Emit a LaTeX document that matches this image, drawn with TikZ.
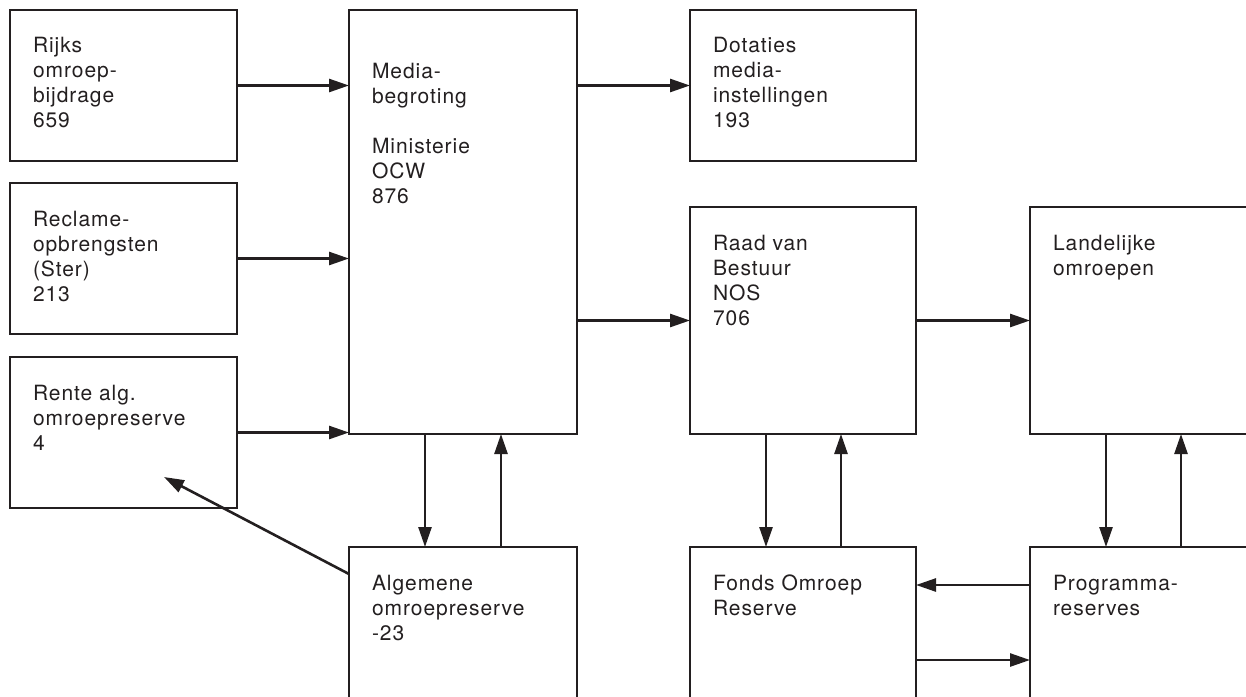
\documentclass[tikz,border=0pt]{standalone}
\usepackage{fontspec}
\setmainfont{TeX Gyre Heros}[LetterSpace=4.5]
\usetikzlibrary{arrows.meta,calc}
\definecolor{ink}{RGB}{35,31,32}
\begin{document}
\begin{tikzpicture}[x=1pt,y=-1pt,
  box/.style={draw=ink, line width=2.6pt, rectangle, anchor=north west, inner sep=0pt, outer sep=0pt},
  txt/.style={anchor=north west, inner sep=0pt, outer sep=0pt, align=left, text=ink, font=\fontsize{21}{25}\selectfont},
  arr/.style={draw=ink, line width=2.6pt, -{Triangle[length=20pt,width=13pt]}}]
\useasboundingbox (0,0) rectangle (1246,696);
\clip (0,0) rectangle (1246,696);
% boxes
\node[box, minimum width=227pt, minimum height=151pt] (rijks) at (10,10) {};
\node[box, minimum width=227pt, minimum height=151pt] (reclame) at (10,183) {};
\node[box, minimum width=227pt, minimum height=151pt] (rente) at (10,357) {};
\node[box, minimum width=228pt, minimum height=424pt] (media) at (349,10) {};
\node[box, minimum width=228pt, minimum height=170pt] (alg) at (349,547) {};
\node[box, minimum width=226pt, minimum height=151pt] (dot) at (690,10) {};
\node[box, minimum width=226pt, minimum height=227pt] (raad) at (690,207) {};
\node[box, minimum width=240pt, minimum height=227pt] (land) at (1030,207) {};
\node[box, minimum width=226pt, minimum height=170pt] (fonds) at (690,547) {};
\node[box, minimum width=240pt, minimum height=170pt] (prog) at (1030,547) {};
% texts
\node[txt] (rijksT) at ($(rijks.north west)+(23,27)$) {Rijks\\omroep-\\bijdrage\\659};
\node[txt] (reclameT) at ($(reclame.north west)+(23,28)$) {Reclame-\\opbrengsten\\(Ster)\\213};
\node[txt] (renteT) at ($(rente.north west)+(23,28)$) {Rente alg.\\omroepreserve\\4};
\node[txt] (mediaT) at ($(media.north west)+(23,53)$) {Media-\\begroting\\[25pt]Ministerie\\OCW\\876};
\node[txt] (algT) at ($(alg.north west)+(23,28)$) {Algemene\\omroepreserve\\-23};
\node[txt] (dotT) at ($(dot.north west)+(23,27)$) {Dotaties\\media-\\instellingen\\193};
\node[txt] (raadT) at ($(raad.north west)+(23,28)$) {Raad van\\Bestuur\\NOS\\706};
\node[txt] (landT) at ($(land.north west)+(23,28)$) {Landelijke\\omroepen};
\node[txt] (fondsT) at ($(fonds.north west)+(23,28)$) {Fonds Omroep\\Reserve};
\node[txt] (progT) at ($(prog.north west)+(23,28)$) {Programma-\\reserves};
% connectors
\draw[arr] (rijks.east) -- (rijks.east -| media.west);
\draw[arr] (reclame.east) -- (reclame.east -| media.west);
\draw[arr] (rente.east) -- (rente.east -| media.west);
\draw[arr] (dot.west -| media.east) -- (dot.west);
\draw[arr] (raad.west -| media.east) -- (raad.west);
\draw[arr] (raad.east) -- (land.west);
\draw[arr] ([xshift=76pt]media.south west) -- ([xshift=76pt]alg.north west);
\draw[arr] ([xshift=152pt]alg.north west) -- ([xshift=152pt]media.south west);
\draw[arr] ([xshift=76pt]raad.south west) -- ([xshift=76pt]fonds.north west);
\draw[arr] ([xshift=151pt]fonds.north west) -- ([xshift=151pt]raad.south west);
\draw[arr] ([xshift=76pt]land.south west) -- ([xshift=76pt]prog.north west);
\draw[arr] ([xshift=151pt]prog.north west) -- ([xshift=151pt]land.south west);
\coordinate (pf) at ($(prog.north west)+(0,38)$);
\draw[arr] (pf) -- (pf -| fonds.east);
\coordinate (fp) at ($(fonds.north east)+(0,113)$);
\draw[arr] (fp) -- (fp -| prog.west);
\coordinate (algOut) at ($(alg.north west)+(0,27)$);
\coordinate (renteTip) at ($(rente.north west)+(154,120)$);
\draw[arr] (algOut) -- (renteTip);
\end{tikzpicture}
\end{document}
